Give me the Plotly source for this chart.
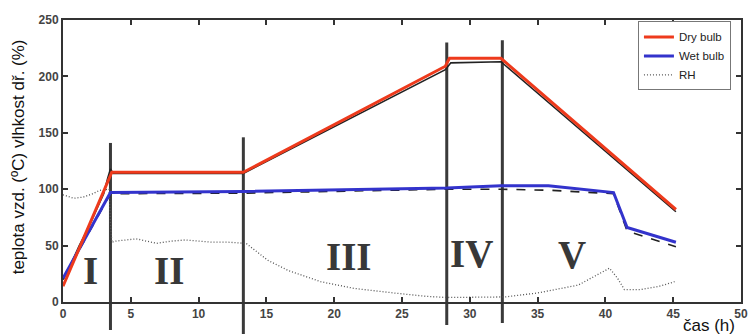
import plotly.graph_objects as go

# Model (fitted) dry-bulb temperature, degC
dry_t = [0, 3.6, 13.3, 28.2, 28.5, 32.3, 45.2]
dry_v = [14, 115, 115, 209, 216, 216, 82]

# Model (fitted) wet-bulb temperature, degC
wet_t = [0, 3.5, 13.3, 28.3, 32.3, 35.8, 40.6, 41.6, 45.2]
wet_v = [21, 97, 98, 101, 103, 103, 97, 66, 53]

# Measured dry-bulb temperature, degC
meas_dry_t = [0, 0.6, 1.2, 1.8, 2.4, 3.0, 3.3, 3.5, 3.7, 13.3, 28.2, 28.6, 32.3, 45.2]
meas_dry_v = [20, 34, 50, 64, 80, 96, 110, 118, 114, 114, 206, 212, 213, 80]

# Measured wet-bulb temperature, degC
meas_wet_t = [0, 3.5, 13.3, 28.3, 32.3, 36.0, 40.6, 41.6, 45.2]
meas_wet_v = [20, 96, 96.5, 100, 100, 99, 96, 63, 49]

# Relative humidity, %
rh_t = [0, 0.8, 1.5, 2.2, 2.7, 3.4, 3.5, 3.6, 3.9, 5.4, 6.9, 8.0, 9.0, 11.0, 12.2, 13.5,
        15.1, 16.6, 19.0, 21.5, 24.4, 26.8, 28.3, 30.0, 32.6, 35.0, 38.0, 40.3,
        40.9, 41.4, 42.6, 44.0, 45.1]
rh_v = [95, 92, 93, 96, 99, 100, 70, 53, 54, 56, 52, 54, 55, 53, 53, 52,
        37, 28, 18, 12, 8, 5, 4, 4, 4.5, 8, 15, 30,
        21, 11, 11, 14, 18]

# Phase boundaries (h) and the heights the marker lines reach
phase_t = [3.5, 13.3, 28.3, 32.4]
phase_top = [141, 146, 230, 232]
phase_bottom_px = [28, 34, 23, 21]

# Phase labels
phase_names = ["I", "II", "III", "IV", "V"]
phase_lab_t = [2.0, 7.8, 21.1, 30.1, 37.5]
phase_lab_v = [28, 28, 40, 43, 42]

x_ticks = list(range(0, 51, 5))
y_ticks = list(range(0, 251, 50))

fig = go.Figure()

fig.add_trace(go.Scatter(x=rh_t, y=rh_v, mode="lines", name="RH",
                         line=dict(color="#555555", width=1.3, dash="1px,2px")))
fig.add_trace(go.Scatter(x=meas_wet_t, y=meas_wet_v, mode="lines", showlegend=False,
                         line=dict(color="#222222", width=1.6, dash="dash")))
fig.add_trace(go.Scatter(x=meas_dry_t, y=meas_dry_v, mode="lines", showlegend=False,
                         line=dict(color="#222222", width=1.6)))
fig.add_trace(go.Scatter(x=wet_t, y=wet_v, mode="lines", name="Wet bulb",
                         line=dict(color="#3333cc", width=3)))
fig.add_trace(go.Scatter(x=dry_t, y=dry_v, mode="lines", name="Dry bulb",
                         line=dict(color="#ee3a1c", width=3)))

# Vertical lines separating the drying phases
plot_h = 282.0
for t, top, bpx in zip(phase_t, phase_top, phase_bottom_px):
    fig.add_shape(type="line", xref="x", yref="paper",
                  x0=t, x1=t, y0=-bpx / plot_h, y1=top / 250.0,
                  line=dict(color="#3a3a3a", width=3), layer="below")

for name, t, v in zip(phase_names, phase_lab_t, phase_lab_v):
    fig.add_annotation(x=t, y=v, text=name, showarrow=False,
                       font=dict(family="Liberation Serif", size=39, color="#383838",
                                 weight="bold"))

fig.add_annotation(xref="paper", yref="paper", x=-0.066, y=0.514,
                   text="teplota vzd. (ºC) vlhkost dř. (%)", textangle=-90,
                   showarrow=False, xanchor="center", yanchor="middle",
                   font=dict(family="Liberation Sans", size=17, color="#111111"))
fig.add_annotation(xref="paper", yref="paper", x=0.953, y=-0.082,
                   text="čas (h)", showarrow=False, xanchor="center", yanchor="middle",
                   font=dict(family="Liberation Sans", size=17, color="#111111"))

axis_common = dict(showgrid=False, zeroline=False, showline=True, linewidth=2,
                   linecolor="#333333", mirror="ticks", ticks="inside", ticklen=5,
                   tickwidth=1.5, tickcolor="#333333",
                   tickfont=dict(family="Liberation Sans Narrow, Liberation Sans",
                                 size=12, color="#444444", weight="bold"))

fig.update_xaxes(range=[0, 50], tickvals=x_ticks, ticktext=[str(v) for v in x_ticks],
                 **axis_common)
fig.update_yaxes(range=[0, 250], tickvals=y_ticks, ticktext=[str(v) for v in y_ticks],
                 **axis_common)

fig.update_layout(
    width=755, height=334,
    margin=dict(l=63, r=7, t=20, b=32),
    paper_bgcolor="white", plot_bgcolor="white",
    legend=dict(x=0.848, y=0.995, xanchor="left", yanchor="top",
                bgcolor="white", bordercolor="#777777", borderwidth=1,
                traceorder="reversed", tracegroupgap=0,
                font=dict(family="Liberation Sans Narrow, Liberation Sans", size=11.5,
                          color="#222222"),
                itemwidth=30),
)

fig.write_html("out.html")
